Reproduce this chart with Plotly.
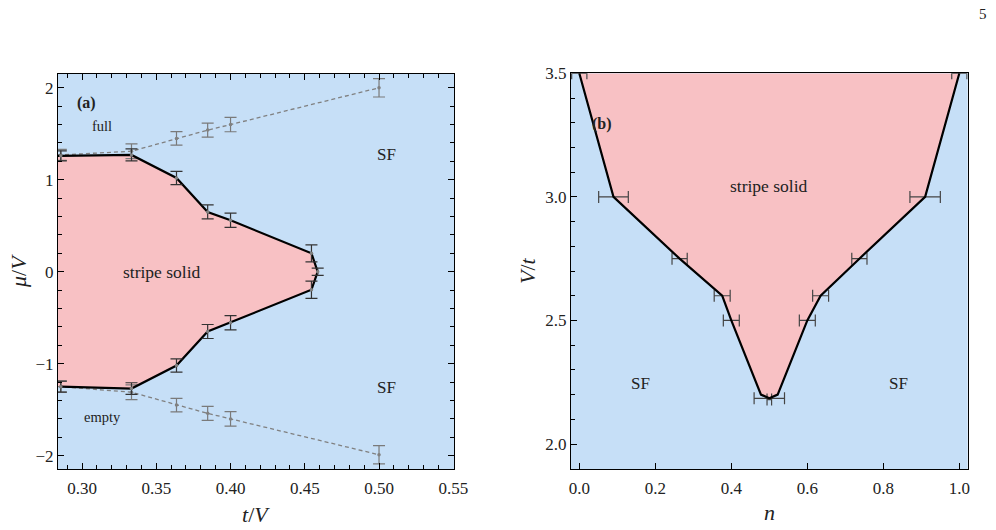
import plotly.graph_objects as go

# ---------------- Panel (a): mu/V vs t/V ----------------
t_boundary = [0.2857, 0.3333, 0.3636, 0.3846, 0.4000, 0.4545]
mu_upper = [1.26, 1.27, 1.02, 0.65, 0.56, 0.20]
mu_upper_err = [0.055, 0.065, 0.072, 0.076, 0.078, 0.092]
mu_lower = [-1.25, -1.27, -1.02, -0.65, -0.555, -0.196]
mu_lower_err = [0.06, 0.063, 0.072, 0.076, 0.078, 0.094]
t_tip = [0.4587]
mu_tip = [0.0]
mu_tip_err = [0.04]

t_full = [0.2857, 0.3333, 0.3636, 0.3846, 0.4000, 0.5000]
mu_full = [1.27, 1.31, 1.45, 1.54, 1.60, 2.00]
mu_full_err = [0.06, 0.08, 0.073, 0.076, 0.078, 0.10]
mu_empty = [-1.25, -1.31, -1.45, -1.54, -1.60, -1.99]
mu_empty_err = [0.06, 0.08, 0.073, 0.076, 0.078, 0.10]

# ---------------- Panel (b): V/t vs n ----------------
n_boundary = [0.0, 0.09, 0.264, 0.376, 0.40, 0.478, 0.50, 0.522, 0.60, 0.635, 0.737, 0.91, 1.0]
V_boundary = [3.5, 3.0, 2.75, 2.6, 2.5, 2.2, 2.185, 2.2, 2.5, 2.6, 2.75, 3.0, 3.5]
n_pts = [0.0, 0.09, 0.264, 0.376, 0.40, 0.50, 0.50, 0.60, 0.635, 0.737, 0.91, 1.0]
V_pts = [3.5, 3.0, 2.75, 2.6, 2.5, 2.185, 2.18, 2.5, 2.6, 2.75, 3.0, 3.5]
n_pts_err = [0.02, 0.039, 0.02, 0.021, 0.021, 0.04, 0.006, 0.021, 0.021, 0.02, 0.04, 0.02]

XR_A = [0.2838, 0.5505]
YR_A = [-2.145, 2.15]
XR_B = [-0.0218, 1.022]
YR_B = [1.899, 3.5]

BLUE = "#c6dff7"
PINK = "#f8c1c4"
FONT = "Liberation Serif, Times New Roman, Times, DejaVu Serif, serif"

fig = go.Figure()

# pink region (a)
xa_fill = [XR_A[0]] + t_boundary + t_tip + t_boundary[::-1] + [XR_A[0]]
ya_fill = [mu_upper[0]] + mu_upper + mu_tip + mu_lower[::-1] + [mu_lower[0]]
fig.add_trace(go.Scatter(x=xa_fill, y=ya_fill, fill="toself", fillcolor=PINK,
                         line=dict(width=0), mode="lines", xaxis="x", yaxis="y",
                         hoverinfo="skip"))

# dashed full / empty lines
for yy, ee in [(mu_full, mu_full_err), (mu_empty, mu_empty_err)]:
    fig.add_trace(go.Scatter(x=[XR_A[0]] + t_full, y=[yy[0]] + yy, mode="lines",
                             line=dict(color="#808080", width=1.3, dash="4px,3px"),
                             xaxis="x", yaxis="y"))
    fig.add_trace(go.Scatter(x=t_full, y=yy, mode="markers",
                             marker=dict(color="#808080", size=3.5),
                             error_y=dict(type="data", array=ee, color="#7a7a7a",
                                          thickness=1.2, width=6),
                             xaxis="x", yaxis="y"))

# black boundary
xa_line = [XR_A[0]] + t_boundary + t_tip + t_boundary[::-1]
ya_line = [mu_upper[0]] + mu_upper + mu_tip + mu_lower[::-1]
fig.add_trace(go.Scatter(x=xa_line, y=ya_line, mode="lines",
                         line=dict(color="black", width=2.2), xaxis="x", yaxis="y"))
fig.add_trace(go.Scatter(x=t_boundary + t_tip + t_boundary,
                         y=mu_upper + mu_tip + mu_lower, mode="markers",
                         marker=dict(color="#808080", size=3.5),
                         error_y=dict(type="data",
                                      array=mu_upper_err + mu_tip_err + mu_lower_err,
                                      color="#333333", thickness=1.2, width=6),
                         xaxis="x", yaxis="y"))

# pink region (b)
fig.add_trace(go.Scatter(x=n_boundary, y=V_boundary, fill="toself", fillcolor=PINK,
                         line=dict(width=0), mode="lines", xaxis="x2", yaxis="y2",
                         hoverinfo="skip"))
fig.add_trace(go.Scatter(x=n_pts, y=V_pts, mode="markers",
                         marker=dict(color="#555555", size=1),
                         error_x=dict(type="data", array=n_pts_err, color="#444444",
                                      thickness=1.2, width=6),
                         xaxis="x2", yaxis="y2"))
fig.add_trace(go.Scatter(x=n_boundary, y=V_boundary, mode="lines",
                         line=dict(color="black", width=2.2), xaxis="x2", yaxis="y2"))

axis_common = dict(showline=True, linecolor="black", linewidth=1.2, ticks="inside",
                   tickcolor="black", tickwidth=1, showgrid=False, zeroline=False,
                   automargin=False,
                   tickfont=dict(family=FONT, size=17, color="#222"))

fig.update_layout(
    width=996, height=530, autosize=False, margin=dict(l=0, r=0, t=0, b=0, pad=0),
    paper_bgcolor="white", plot_bgcolor=BLUE, showlegend=False,
    font=dict(family=FONT, color="#222"),
    xaxis=dict(domain=[58 / 996, 454 / 996], range=XR_A, anchor="y",
               tick0=0.30, dtick=0.05, tickformat=".2f", ticklen=6, mirror="ticks",
               ticklabelstandoff=3,
               minor=dict(ticks="inside", ticklen=3.5, dtick=0.01, tick0=0.0,
                          tickcolor="black"),
               **axis_common),
    yaxis=dict(domain=[1 - 469 / 530, 1 - 74 / 530], range=YR_A, anchor="x",
               tick0=0, dtick=1, ticklen=6, mirror="ticks",
               minor=dict(ticks="inside", ticklen=3.5, dtick=0.2, tick0=0.0,
                          tickcolor="black"),
               **axis_common),
    xaxis2=dict(domain=[571 / 996, 967.7 / 996], range=XR_B, anchor="y2",
                tick0=0, dtick=0.2, tickformat=".1f", ticklen=6, mirror=True,
                ticklabelstandoff=3,
                **axis_common),
    yaxis2=dict(domain=[1 - 469 / 530, 1 - 73.3 / 530], range=YR_B, anchor="x2",
                tick0=2.0, dtick=0.5, tickformat=".1f", ticklen=6, mirror=True,
                minor=dict(ticks="inside", ticklen=3.5, dtick=0.1, tick0=0.0,
                           tickcolor="black"),
                **axis_common),
)

def txt(x, y, s, size=15, xref="x", yref="y", bold=False, angle=0):
    if bold:
        s = "<b>" + s + "</b>"
    fig.add_annotation(x=x, y=y, xref=xref, yref=yref, text=s, showarrow=False,
                       xanchor="center", yanchor="middle",
                       textangle=angle, font=dict(family=FONT, size=size, color="#222"))

# panel (a) labels
txt(0.3027, 1.84, "(a)", size=16, bold=True)
txt(0.3135, 1.58, "full", size=14.5)
txt(0.3536, 0.0, "stripe solid", size=17.5)
txt(0.3135, -1.58, "empty", size=14.5)
txt(0.505, 1.27, "SF", size=17)
txt(0.505, -1.26, "SF", size=17)

# panel (b) labels
txt(0.059, 3.293, "(b)", size=16, bold=True, xref="x2", yref="y2")
txt(0.50, 3.045, "stripe solid", size=17.5, xref="x2", yref="y2")
txt(0.16, 2.246, "SF", size=17, xref="x2", yref="y2")
txt(0.839, 2.246, "SF", size=17, xref="x2", yref="y2")

# axis titles
txt(256 / 996, 1 - 514 / 530, "<i>t</i>/<i>V</i>", size=22, xref="paper", yref="paper")
txt(18 / 996, 1 - 271 / 530, "<i>μ</i>/<i>V</i>", size=22, xref="paper", yref="paper", angle=-90)
txt(769 / 996, 1 - 512 / 530, "<i>n</i>", size=22, xref="paper", yref="paper")
txt(527 / 996, 1 - 271 / 530, "<i>V</i>/<i>t</i>", size=22, xref="paper", yref="paper", angle=-90)

# page number
txt(983 / 996, 1 - 14 / 530, "5", size=15, xref="paper", yref="paper")

fig.write_html("out.html")
